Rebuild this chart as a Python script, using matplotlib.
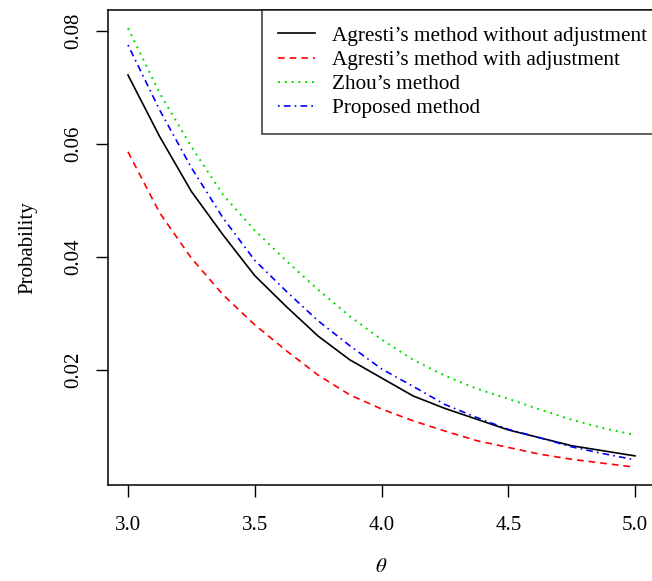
import matplotlib

matplotlib.use('Agg')
import matplotlib.pyplot as plt

plt.rcParams['font.family'] = ['Liberation Serif', 'DejaVu Serif']
plt.rcParams['mathtext.fontset'] = 'stix'

# values
theta = [3.0, 3.125, 3.25, 3.375, 3.5, 3.625, 3.75, 3.875, 4.0,
         4.125, 4.25, 4.375, 4.5, 4.625, 4.75, 4.875, 5.0]
agresti_plain = [0.0722, 0.0613, 0.0516, 0.0439, 0.0367, 0.0312, 0.0260, 0.0218, 0.0186,
                 0.0154, 0.0132, 0.0113, 0.0094, 0.0080, 0.0066, 0.0057, 0.0048]
agresti_adj = [0.0586, 0.0478, 0.0398, 0.0333, 0.0280, 0.0234, 0.0191, 0.0156, 0.0131,
               0.0110, 0.0092, 0.0075, 0.0063, 0.0051, 0.0042, 0.0035, 0.0028]
zhou = [0.0805, 0.0690, 0.0595, 0.0510, 0.0447, 0.0393, 0.0342, 0.0295, 0.0254,
        0.0218, 0.0190, 0.0167, 0.0149, 0.0130, 0.0112, 0.0097, 0.0085]
proposed = [0.0775, 0.0660, 0.0558, 0.0469, 0.0394, 0.0339, 0.0287, 0.0243, 0.0202,
            0.0171, 0.0139, 0.0116, 0.0095, 0.0080, 0.0064, 0.0052, 0.0041]

labels = ["Agresti\u2019s method without adjustment",
          "Agresti\u2019s method with adjustment",
          "Zhou\u2019s method",
          "Proposed method"]
x_ticks = [3.0, 3.5, 4.0, 4.5, 5.0]
y_ticks = [0.02, 0.04, 0.06, 0.08]

fig = plt.figure(figsize=(6.52, 5.81), dpi=100)
ax = fig.add_axes([107.7 / 652, 96 / 581, (655.3 - 107.7) / 652, 475 / 581])

ax.plot(theta, agresti_plain, color='black', lw=1.2, label=labels[0])
ax.plot(theta, agresti_adj, color='#ff0000', lw=1.2, dashes=(4, 3), label=labels[1])
ax.plot(theta, zhou, color='#00dd00', lw=1.4, dashes=(1, 2.5), label=labels[2])
ax.plot(theta, proposed, color='#0000ff', lw=1.2, dashes=(1, 2.5, 4, 2.5), label=labels[3])

ax.set_xlim(2.92, 5.08)
ax.set_ylim(-0.00035, 0.0837)
ax.set_xticks(x_ticks)
ax.set_xticklabels(['%.1f' % v for v in x_ticks])
ax.set_yticks(y_ticks)
ax.set_yticklabels(['%.2f' % v for v in y_ticks], rotation=90, va='center')
ax.tick_params(direction='out', length=8.6, width=1, labelsize=15, colors='black')
ax.tick_params(axis='x', pad=13.5)
ax.tick_params(axis='y', pad=9)
for s in ax.spines.values():
    s.set_linewidth(1.1)

ax.set_xlabel(r'$\theta$', fontsize=15, labelpad=17)
ax.set_ylabel('Probability', fontsize=15, labelpad=19)

# box runs a little past the right edge, as in the cropped original
leg = ax.legend(loc='upper right', bbox_to_anchor=(1.0146, 1.0),
                fontsize=15.3, frameon=True, fancybox=False,
                edgecolor='black', handlelength=1.75, handletextpad=0.8,
                labelspacing=0.2, borderpad=0.75, borderaxespad=0)
leg.get_frame().set_linewidth(1.1)

fig.savefig('out.png', dpi=100)
